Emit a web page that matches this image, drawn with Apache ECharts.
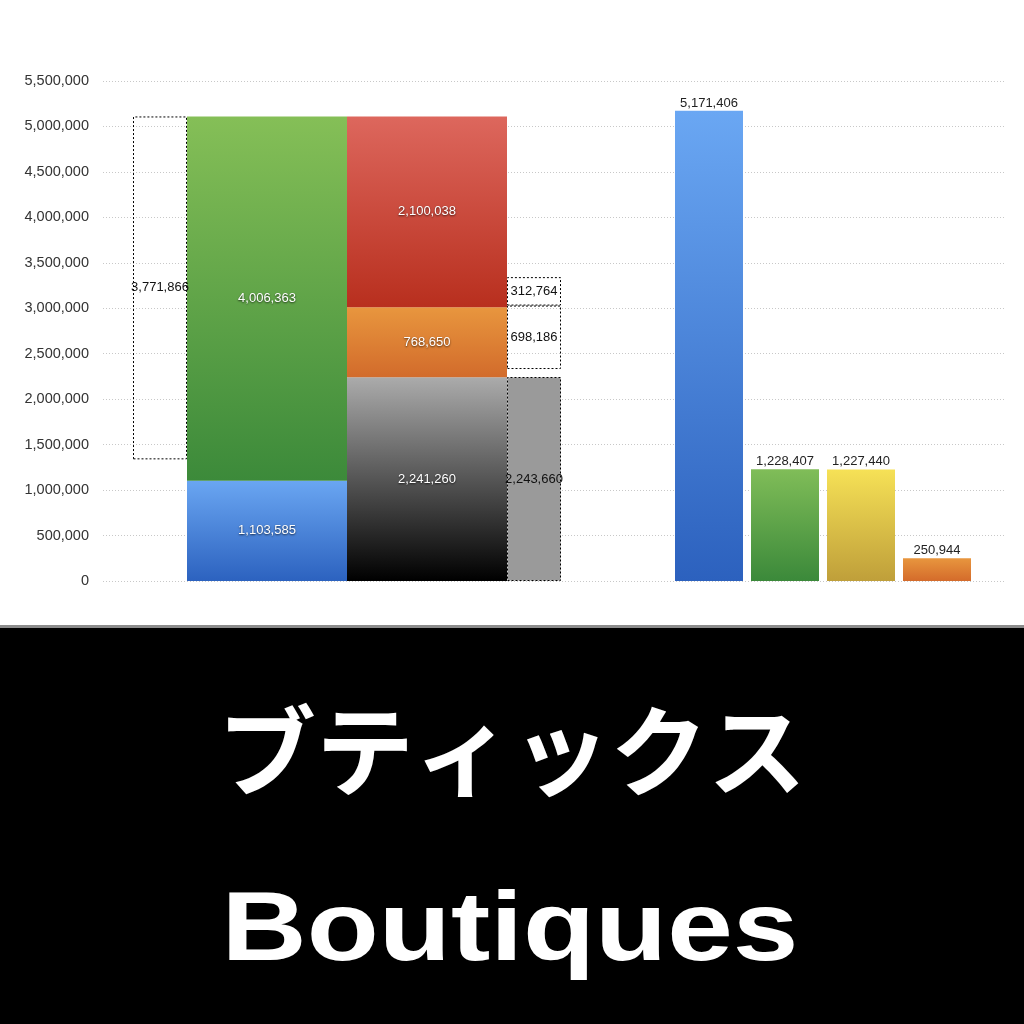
<!DOCTYPE html>
<html>
<head>
<meta charset="utf-8">
<script src="https://cdn.jsdelivr.net/npm/echarts@6/dist/echarts.min.js"></script>
<style>html,body{margin:0;padding:0;background:#fff;}#c{width:1024px;height:1024px;}</style>
</head>
<body>
<div id="c"></div>
<script>
// ---- data ----
const leftBoxValue = 3771866;                       // dashed box, left
const leftStackValues = [1103585, 4006363];         // blue, green
const midStackValues = [2241260, 768650, 2100038];  // black, orange, red
const rightBoxValues = [2243660, 88000, 698186, 312764]; // gray, (gap, estimated), dashed, dashed
const rightBars = [5171406, 1228407, 1227440, 250944];
const rightCats = ['1', '2', '3', '4'];
const yMax = 5500000;
const yStep = 500000;
const titleJa = 'ブティックス';
const titleEn = 'Boutiques';

const fmt = v => Number(v).toLocaleString('en-US');
const grad = (a, b) => ({type: 'linear', x: 0, y: 0, x2: 0, y2: 1, colorStops: [{offset: 0, color: a}, {offset: 1, color: b}]});
const FONT = 'Liberation Sans';
const whiteLabel = {show: true, position: 'inside', color: '#fff', fontSize: 13, fontFamily: FONT,
  textShadowColor: 'rgba(0,0,0,0.7)', textShadowBlur: 2, textShadowOffsetX: 0, textShadowOffsetY: 1,
  formatter: p => fmt(p.value)};
const blackLabel = {show: true, position: 'inside', color: '#111', fontSize: 13, fontFamily: FONT,
  formatter: p => fmt(p.value)};
const dashed = {borderColor: '#000', borderWidth: 1, borderType: [2, 2]};

const leftTotal = leftStackValues[0] + leftStackValues[1];
const leftBase = leftTotal - leftBoxValue;

function s(stack, width, value, itemStyle, label) {
  return {type: 'bar', xAxisIndex: 1, yAxisIndex: 1, stack: stack, barWidth: width, barGap: '0%',
    data: [value], itemStyle: itemStyle, label: label || {show: false}, silent: true, animation: false};
}

const series = [
  s('a', 54, leftBase, {color: 'rgba(0,0,0,0)'}),
  s('a', 54, leftBoxValue, Object.assign({color: 'rgba(255,255,255,0)'}, dashed), blackLabel),
  s('b', 160, leftStackValues[0], {color: grad('#6aa6f2', '#2c62bf')}, whiteLabel),
  s('b', 160, leftStackValues[1], {color: grad('#85bf57', '#3c8a3a')}, whiteLabel),
  s('c', 160, midStackValues[0], {color: grad('#ababab', '#000000')}, whiteLabel),
  s('c', 160, midStackValues[1], {color: grad('#e8963e', '#d26b2b')}, whiteLabel),
  s('c', 160, midStackValues[2], {color: grad('#dd675d', '#b82f1e')}, whiteLabel),
  s('d', 54, rightBoxValues[0], Object.assign({color: '#9a9a9a'}, dashed), blackLabel),
  s('d', 54, rightBoxValues[1], {color: 'rgba(0,0,0,0)'}),
  s('d', 54, rightBoxValues[2], Object.assign({color: 'rgba(255,255,255,0)'}, dashed), blackLabel),
  s('d', 54, rightBoxValues[3], Object.assign({color: 'rgba(255,255,255,0)'}, dashed), blackLabel),
  {
    type: 'bar', xAxisIndex: 2, yAxisIndex: 2, barWidth: 68, silent: true, animation: false,
    data: [
      {value: rightBars[0], itemStyle: {color: grad('#6aa7f3', '#2c61be')}},
      {value: rightBars[1], itemStyle: {color: grad('#80bd58', '#3b893a')}},
      {value: rightBars[2], itemStyle: {color: grad('#f6e156', '#bf9f3a')}},
      {value: rightBars[3], itemStyle: {color: grad('#e8963e', '#d46b2b')}}
    ],
    label: {show: true, position: 'top', distance: 1, color: '#222', fontSize: 13, fontFamily: FONT,
      formatter: p => fmt(p.value)}
  }
];

const yBase = {type: 'value', min: 0, max: yMax, interval: yStep};
const gTop = 81, gBottom = 1024 - 581;

const chart = echarts.init(document.getElementById('c'), null, {renderer: 'canvas'});
chart.setOption({
  backgroundColor: '#fff',
  animation: false,
  grid: [
    {left: 103, right: 19, top: gTop, bottom: gBottom, containLabel: false},
    {left: 103, right: 1024 - 591, top: gTop, bottom: gBottom, containLabel: false},
    {left: 671, right: 1024 - 975, top: gTop, bottom: gBottom, containLabel: false}
  ],
  xAxis: [
    {type: 'category', gridIndex: 0, data: [''], show: false},
    {type: 'category', gridIndex: 1, data: [''], show: false},
    {type: 'category', gridIndex: 2, data: rightCats, show: false}
  ],
  yAxis: [
    Object.assign({gridIndex: 0, axisLine: {show: false}, axisTick: {show: false},
      axisLabel: {color: '#333', fontSize: 14.5, fontFamily: FONT, margin: 14, formatter: v => fmt(v)},
      splitLine: {show: true, lineStyle: {color: '#c8c8c8', type: [1, 2], width: 1}}}, yBase),
    Object.assign({gridIndex: 1, show: false, splitLine: {show: false}}, yBase),
    Object.assign({gridIndex: 2, show: false, splitLine: {show: false}}, yBase)
  ],
  series: series,
  graphic: [
    {type: 'rect', shape: {x: 0, y: 625, width: 1024, height: 3}, style: {fill: '#8c8c8c'}, silent: true},
    {type: 'rect', shape: {x: 0, y: 628, width: 1024, height: 396}, style: {fill: '#000'}, silent: true},
    {type: 'text', x: 512, y: 751, silent: true,
      style: {text: titleJa, fill: '#fff', fontSize: 98, fontWeight: 'bold', fontFamily: 'Noto Sans CJK JP',
        align: 'center', verticalAlign: 'middle'}},
    {type: 'text', x: 510, y: 933, scaleY: 0.84, silent: true,
      style: {text: titleEn, fill: '#fff', fontSize: 118, fontWeight: 'bold', fontFamily: 'Liberation Sans',
        align: 'center', verticalAlign: 'middle'}}
  ]
});
</script>
</body>
</html>
